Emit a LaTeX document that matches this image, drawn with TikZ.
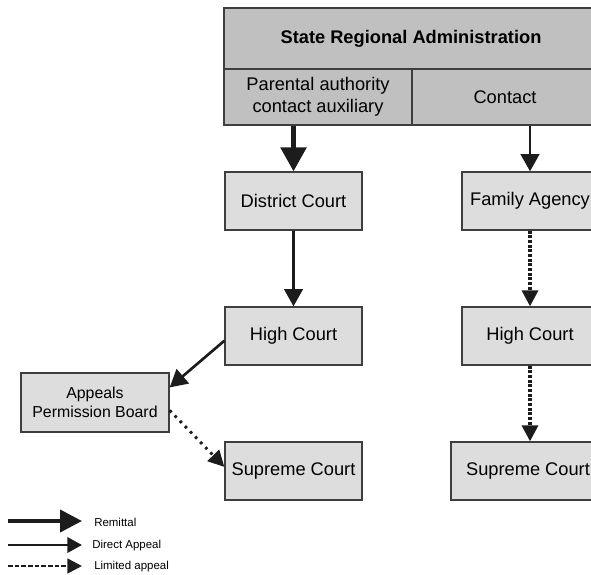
\documentclass[tikz,border=0pt]{standalone}
\usepackage{fontspec}
\setmainfont{Liberation Sans}
\usepackage{xcolor}
\usetikzlibrary{positioning,arrows.meta,calc}

\definecolor{hdrgray}{RGB}{192,192,192}
\definecolor{boxgray}{RGB}{221,221,221}
\definecolor{edgegray}{RGB}{62,62,62}
\definecolor{arrowblack}{RGB}{28,28,28}
\newcommand{\boxfont}{\fontsize{13.7pt}{16.4pt}\selectfont}
\newcommand{\smallboxfont}{\fontsize{11.9pt}{14.4pt}\selectfont}
\newcommand{\legfont}{\fontsize{8.6pt}{10pt}\selectfont}

\begin{document}
\begin{tikzpicture}[
          x=0.75pt, y=-0.75pt,
          font=\boxfont,
          cell/.style={draw=edgegray, line width=1pt, fill=hdrgray, inner sep=0pt, align=center},
          court/.style={draw=edgegray, line width=1pt, fill=boxgray, inner sep=0pt, align=center,
                        minimum width=102.75pt, minimum height=43.5pt},
          remit/.style={-{Triangle[length=18pt,width=19pt]}, line width=3.5pt, arrowblack},
          direct/.style={-{Triangle[length=13pt,width=14pt]}, line width=2pt, arrowblack},
          limited/.style={-{Triangle[length=12pt,width=12pt]}, line width=2.5pt,
                          dash pattern=on 2.2pt off 1.3pt, arrowblack},
          leg/.style={font=\legfont, anchor=west, inner sep=0pt}
      ]
        \useasboundingbox (0,0) rectangle (591,574);
        % administration block
        \node[cell, minimum width=280.5pt, minimum height=45.75pt, font=\boxfont\bfseries] (sra) at (411,38.5) {State Regional Administration};
        \node[cell, minimum width=141pt, minimum height=42pt] (par) at (318,97) {Parental authority\\contact auxiliary};
        \node[cell, minimum width=139.5pt, minimum height=42pt] (con) at (505,97) {Contact};
        % courts
        \node[court] (dc) at (293.5,201) {District Court};
        \node[court] (hcl) at (293.5,336) {High Court};
        \node[court] (scl) at (293.5,471) {Supreme Court};
        \node[court, minimum width=102pt] (fa) at (530,201) {Family Agency};
        \node[court, minimum width=102pt] (hcr) at (530,336) {High Court};
        \node[court, minimum width=115.5pt] (scr) at (528,471) {Supreme Court};
        \node[court, minimum width=111pt, minimum height=44.25pt, font=\smallboxfont] (apb) at (95,402.5) {Appeals\\Permission Board};
        % connectors
        \draw[remit] (dc.north |- par.south) -- (dc.north);
        \draw[direct] (fa.north |- con.south) -- (fa.north);
        \draw[direct] (dc) -- (hcl);
        \draw[direct] ($(hcl.north west)!0.58!(hcl.south west)$) -- ($(apb.north east)!0.25!(apb.south east)$);
        \draw[limited, line width=2.2pt, dash pattern=on 2pt off 3.5pt] ($(apb.north east)!0.63!(apb.south east)$) -- ($(scl.north west)!0.43!(scl.south west)$);
        \draw[limited] (fa) -- (hcr);
        \draw[limited] (hcr.south) -- (hcr.south |- scr.north);
        % legend
        \coordinate (r0) at (8,521);  \coordinate (r1) at (82,521);
        \coordinate (d0) at (8,545);  \coordinate (d1) at (82,545);
        \coordinate (l0) at (8,566);  \coordinate (l1) at (82,566);
        \draw[remit, -{Triangle[length=16.5pt,width=16.5pt]}, line width=3pt] (r0) -- (r1);
        \draw[direct, -{Triangle[length=11pt,width=11.5pt]}] (d0) -- (d1);
        \draw[limited, -{Triangle[length=11pt,width=11pt]}, line width=2pt, dash pattern=on 3.5pt off 1.5pt] (l0) -- (l1);
        \node[leg] (rtxt) at (94,522) {Remittal};
        \node[leg] (dtxt) at (92,546) {Direct Appeal};
        \node[leg] (ltxt) at (94,567) {Limited appeal};
      \end{tikzpicture}
\end{document}
